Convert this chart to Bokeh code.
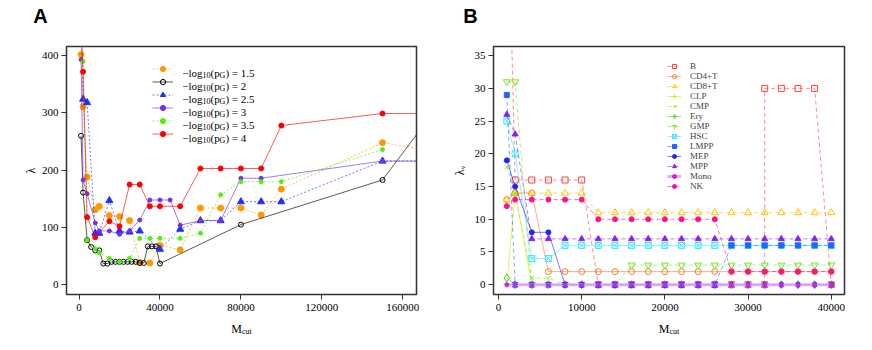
from bokeh.plotting import figure
from bokeh.models import Range1d, FixedTicker, BasicTickFormatter, Legend, LegendItem, Label
from bokeh.layouts import row, column
from bokeh.embed import file_html
from bokeh.resources import INLINE

# ---------------- Panel A data ----------------
ticks_a_x = [0, 40000, 80000, 120000, 160000]
ticks_a_y = [0, 100, 200, 300, 400]

mcut_15 = [1000, 2000, 4000, 8000, 10000, 15000, 20000, 25000, 30000, 35000, 40000, 50000,
           60000, 70000, 80000, 90000, 100000, 150000, 200000]
lam_15 = [402, 311, 188, 131, 137, 121, 119, 112, 39, 38, 69, 61, 134, 134, 134, 122, 167, 248, 220]

mcut_2 = [1000, 2000, 4000, 6000, 8000, 10000, 12000, 14000, 16000, 18000, 20000, 22000, 24000,
          26000, 28000, 30000, 32000, 34000, 36000, 38000, 40000, 80000, 150000, 200000]
lam_2 = [260, 161, 78, 66, 60, 60, 37, 37, 40, 40, 40, 40, 40, 40, 40, 38, 38, 67, 67, 67, 37,
         105, 183, 418]

mcut_25 = [1000, 2000, 4000, 8000, 10000, 15000, 20000, 25000, 30000, 40000, 50000, 60000, 70000,
           80000, 90000, 100000, 150000, 200000]
lam_25 = [440, 324, 318, 90, 90, 147, 94, 92, 94, 62, 97, 112, 112, 145, 145, 145, 216, 216]

mcut_3 = [1000, 2000, 4000, 8000, 10000, 15000, 20000, 25000, 30000, 35000, 40000, 45000, 50000,
          60000, 70000, 80000, 90000, 150000, 200000]
lam_3 = [393, 183, 159, 108, 94, 94, 88, 94, 113, 148, 148, 148, 104, 112, 112, 186, 186, 216, 216]

mcut_35 = [2000, 4000, 8000, 10000, 15000, 20000, 25000, 30000, 35000, 40000, 50000, 60000, 70000,
           80000, 90000, 100000, 150000]
lam_35 = [390, 78, 63, 56, 46, 40, 46, 81, 81, 81, 81, 90, 157, 180, 180, 180, 236]

mcut_4 = [1000, 2000, 4000, 8000, 15000, 20000, 25000, 30000, 35000, 40000, 50000, 60000, 70000,
          80000, 90000, 100000, 150000, 200000]
lam_4 = [450, 372, 118, 83, 111, 102, 175, 175, 137, 137, 137, 203, 203, 203, 203, 278, 299, 299]

labels_a = ["1.5", "2", "2.5", "3", "3.5", "4"]

# ---------------- Panel B data ----------------
ticks_b_x = [0, 10000, 20000, 30000, 40000]
ticks_b_y = [0, 5, 10, 15, 20, 25, 30, 35]

mcut_b = [1000, 2000, 4000, 6000, 8000, 10000, 12000, 14000, 16000, 18000, 20000, 22000, 24000,
          26000, 28000, 30000, 32000, 34000, 36000, 38000, 40000]
mcut_B = [1000, 2000, 4000, 6000, 8000, 10000, 12000, 14000, 16000, 18000, 20000, 22000, 24000,
          26000, 28000, 30000, 32000, 32000, 34000, 36000, 38000, 40000]
lv_B = [68, 16, 16, 16, 16, 16, 0, 0, 0, 0, 0, 0, 0, 0, 0, 0, 0, 30, 30, 30, 30, 0]
lv_CD4 = [13, 14, 14, 2, 2, 2, 2, 2, 2, 2, 2, 2, 2, 2, 2, 2, 2, 2, 2, 2, 2]
lv_CD8 = [13, 14, 14, 14, 14, 14, 11, 11, 11, 11, 11, 11, 11, 11, 11, 11, 11, 11, 11, 11, 11]
lv_CLP = [0, 14, 0, 0, 0, 0, 0, 0, 0, 0, 0, 0, 0, 0, 0, 0, 0, 0, 0, 0, 0]
lv_CMP = [18, 14, 1, 1, 0, 0, 0, 0, 0, 0, 0, 0, 0, 0, 0, 0, 0, 0, 0, 0, 0]
lv_Ery = [1, 0, 0, 0, 0, 0, 0, 0, 0, 0, 0, 0, 0, 0, 0, 0, 0, 0, 0, 0, 0]
lv_GMP = [31, 31, 0, 0, 0, 0, 0, 0, 3, 3, 3, 3, 3, 3, 3, 3, 3, 3, 3, 3, 3]
lv_HSC = [25, 20, 4, 4, 6, 6, 6, 6, 6, 6, 6, 6, 6, 6, 6, 6, 6, 6, 6, 6, 6]
lv_LMPP = [29, 0, 0, 0, 0, 0, 0, 0, 0, 0, 0, 0, 0, 0, 6, 6, 6, 6, 6, 6, 6]
lv_MEP = [19, 15, 8, 8, 0, 0, 0, 0, 0, 0, 0, 0, 0, 0, 0, 0, 0, 0, 0, 0, 0]
lv_MPP = [26, 23, 7, 7, 7, 7, 7, 7, 7, 7, 7, 7, 7, 7, 7, 7, 7, 7, 7, 7, 7]
lv_Mono = [0, 0, 0, 0, 0, 0, 0, 0, 0, 0, 0, 0, 0, 0, 0, 0, 0, 0, 0, 0, 0]
lv_NK = [12, 13, 13, 13, 13, 13, 10, 10, 10, 10, 10, 10, 10, 10, 2, 2, 2, 2, 2, 2, 2]

cell_types = ["B", "CD4+T", "CD8+T", "CLP", "CMP", "Ery", "GMP", "HSC", "LMPP", "MEP", "MPP", "Mono", "NK"]

SERIF = "Liberation Serif"
SANS = "Liberation Sans"

TOP_H = 30      # height of the strip holding the panel letters
BOT_H = 26      # height of the strip holding the x titles
FRAME_TOP = 46
FRAME_BOTTOM = 294
W_A, W_B = 438, 426


def style(p, xt, yt, ylabel, ystandoff):
    p.xaxis.ticker = FixedTicker(ticks=xt)
    p.yaxis.ticker = FixedTicker(ticks=yt)
    for ax in (p.xaxis[0], p.yaxis[0]):
        ax.axis_line_color = None
        ax.major_tick_out = 5
        ax.major_tick_in = 0
        ax.minor_tick_line_color = None
        ax.major_tick_line_color = "#333333"
        ax.major_label_text_font = SERIF
        ax.major_label_text_font_size = "11px"
        ax.major_label_text_color = "black"
        ax.formatter = BasicTickFormatter(use_scientific=False)
    p.xaxis.major_label_standoff = 4
    p.yaxis.major_label_standoff = 3
    p.yaxis.axis_label = ylabel
    p.yaxis.axis_label_text_font = SERIF
    p.yaxis.axis_label_text_font_size = "12px"
    p.yaxis.axis_label_text_font_style = "normal"
    p.yaxis.axis_label_text_color = "black"
    p.yaxis.axis_label_standoff = ystandoff
    p.xgrid.visible = False
    p.ygrid.visible = False
    p.outline_line_color = "#333333"
    p.outline_line_width = 1.5


def frame_label(p, frame_left, px, py, text, size):
    # label inside the plotting frame, screen units relative to frame bottom-left
    p.add_layout(Label(x=px - frame_left, y=FRAME_BOTTOM - py, x_units="screen", y_units="screen",
                       text=text, text_font=SERIF, text_font_size=f"{size}px", text_align="left",
                       text_baseline="alphabetic", text_color="black"))


def strip(x0, width, height):
    s = figure(width=width, height=height, x_range=Range1d(x0, x0 + width), y_range=Range1d(0, height),
               x_axis_type=None, y_axis_type=None, min_border=0, output_backend="svg",
               toolbar_location=None)
    s.outline_line_color = None
    s.xgrid.visible = False
    s.ygrid.visible = False
    return s


def strip_label(s, page_top, height, px, py, text, size, font=SERIF, align="left",
                baseline="alphabetic", bold=False):
    s.add_layout(Label(x=px, y=height - (py - page_top), text=text, text_font=font,
                       text_font_size=f"{size}px", text_align=align, text_baseline=baseline,
                       text_color="black", text_font_style="bold" if bold else "normal"))


# ---------------- Panel A ----------------
pa = figure(frame_width=350, frame_height=248, min_border_left=66, min_border_right=22,
            min_border_top=FRAME_TOP - TOP_H, min_border_bottom=342 - BOT_H - FRAME_BOTTOM,
            x_range=Range1d(-6200, 166800), y_range=Range1d(-17, 416),
            output_backend="svg", toolbar_location=None)
style(pa, ticks_a_x, ticks_a_y, "\u03bb", 1)

series_a = [
    (mcut_15, lam_15, "#FF9900", "2 2", "circle", 6, "#FF9900"),
    (mcut_2, lam_2, "#000000", "solid", "circle", 5, None),
    (mcut_25, lam_25, "#1F2FFF", "2 2", "triangle", 7, "#1F2FFF"),
    (mcut_3, lam_3, "#7033E6", "solid", "circle", 4, "#7033E6"),
    (mcut_35, lam_35, "#55EE11", "2 2", "circle", 4, "#55EE11"),
    (mcut_4, lam_4, "#FF0000", "solid", "circle", 5, "#FF0000"),
]
items_a = []
for (xs, ys, col, dash, mk, sz, fill) in series_a:
    r1 = pa.line(xs, ys, line_color=col, line_dash=dash, line_width=1, line_alpha=0.65)
    r2 = pa.scatter(xs, ys, marker=mk, size=sz, line_color=col, fill_color=fill, line_width=1)
    items_a.append(LegendItem(label=" ", renderers=[r1, r2]))

leg_a = Legend(items=items_a, location=(86, 154), glyph_width=21, glyph_height=13, label_height=13,
               spacing=0, padding=0, margin=0, label_standoff=9, border_line_color=None,
               background_fill_alpha=0, label_text_font_size="8px")
pa.add_layout(leg_a)

FL_A = 66
for i, lab in enumerate(labels_a):
    cy = 68.5 + 13 * i
    x0 = 181.7
    frame_label(pa, FL_A, x0, cy + 3.5, "\u2212log", 11)
    frame_label(pa, FL_A, x0 + 20.3, cy + 6, "10", 8)
    frame_label(pa, FL_A, x0 + 28.3, cy + 3.5, "(p", 11)
    frame_label(pa, FL_A, x0 + 37.4, cy + 6, "G", 8)
    frame_label(pa, FL_A, x0 + 43.2, cy + 3.5, ") = " + lab, 11)

# ---------------- Panel B ----------------
pb = figure(frame_width=351, frame_height=248, min_border_left=55, min_border_right=20,
            min_border_top=FRAME_TOP - TOP_H, min_border_bottom=342 - BOT_H - FRAME_BOTTOM,
            x_range=Range1d(-600, 41590), y_range=Range1d(-1.5, 36.4),
            output_backend="svg", toolbar_location=None)
style(pb, ticks_b_x, ticks_b_y, "\u03bb\u1d65", 5)

series_b = [
    (mcut_B, lv_B, "#FF4040", "4 3", "square", 6, None, 1, "#FF4040"),
    (mcut_b, lv_CD4, "#FF7733", "solid", "circle", 6, None, 1, "#FF7733"),
    (mcut_b, lv_CD8, "#FFC400", "4 3", "triangle", 7, None, 1, "#FFC400"),
    (mcut_b, lv_CLP, "#C8EE00", "solid", "cross", 7, None, 1, "#C8EE00"),
    (mcut_b, lv_CMP, "#8FE833", "4 3", "x", 6, None, 1, "#8FE833"),
    (mcut_b, lv_Ery, "#44CC22", "solid", "diamond", 8, None, 1, "#44CC22"),
    (mcut_b, lv_GMP, "#77E622", "4 3", "inverted_triangle", 7, None, 1, "#77E622"),
    (mcut_b, lv_HSC, "#44E6FF", "solid", "square_x", 6, None, 1, "#44E6FF"),
    (mcut_b, lv_LMPP, "#2266FF", "4 3", "square", 5, "#2266FF", 1, "#2266FF"),
    (mcut_b, lv_MEP, "#2222FF", "solid", "circle", 5, "#2222FF", 1, "#2222FF"),
    (mcut_b, lv_MPP, "#8822EE", "4 3", "triangle", 6, "#8822EE", 1, "#8822EE"),
    (mcut_b, lv_Mono, "#CC22EE", "solid", "circle", 4, "#CC22EE", 3, "#DCA6F7"),
    (mcut_b, lv_NK, "#FF1188", "4 3", "circle", 5, "#FF1188", 1, "#FF1188"),
]
items_b = []
for name, (xs, ys, col, dash, mk, sz, fill, lw, lcol) in zip(cell_types, series_b):
    r1 = pb.line(xs, ys, line_color=lcol, line_dash=dash, line_width=lw,
                 line_alpha=0.9 if lw > 1 else 0.6)
    r2 = pb.scatter(xs, ys, marker=mk, size=sz, line_color=col, fill_color=fill, line_width=1)
    items_b.append(LegendItem(label=name, renderers=[r1, r2]))

leg_b = Legend(items=items_b, location=(174, 103), glyph_width=14, glyph_height=10, label_height=10,
               spacing=0, padding=0, margin=0, label_standoff=9, border_line_color=None,
               background_fill_alpha=0, label_text_font=SERIF, label_text_font_size="9px")
pb.add_layout(leg_b)

# ---------------- text strips ----------------
top_a = strip(0, W_A, TOP_H)
top_b = strip(W_A, W_B, TOP_H)
strip_label(top_a, 0, TOP_H, 40, 15, "A", 20, font=SANS, align="center", baseline="middle", bold=True)
strip_label(top_b, 0, TOP_H, 470, 15, "B", 20, font=SANS, align="center", baseline="middle", bold=True)

BOT_TOP = 342 - BOT_H
bot_a = strip(0, W_A, BOT_H)
bot_b = strip(W_A, W_B, BOT_H)
for s, cx in ((bot_a, 241.5), (bot_b, 669.0)):
    strip_label(s, BOT_TOP, BOT_H, cx, 328, "M", 12, align="right")
    strip_label(s, BOT_TOP, BOT_H, cx, 330.5, "cut", 8, align="left")

layout = column(row(top_a, top_b), row(pa, pb), row(bot_a, bot_b))
open("out.html", "w").write(file_html(layout, INLINE))
